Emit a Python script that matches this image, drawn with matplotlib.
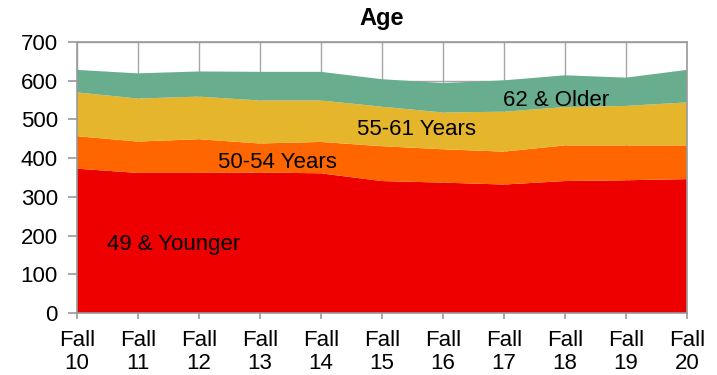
import matplotlib
matplotlib.use("Agg")
import matplotlib.pyplot as plt

plt.rcParams["font.family"] = ["Liberation Sans", "DejaVu Sans"]

terms = ["Fall\n10", "Fall\n11", "Fall\n12", "Fall\n13", "Fall\n14", "Fall\n15",
         "Fall\n16", "Fall\n17", "Fall\n18", "Fall\n19", "Fall\n20"]
age_49_under = [373, 362, 362, 363, 361, 341, 337, 332, 341, 343, 346]
age_50_54 = [84, 81, 87, 75, 81, 90, 86, 85, 92, 90, 87]
age_55_61 = [113, 111, 110, 111, 107, 102, 95, 103, 99, 102, 111]
age_62_over = [58, 65, 65, 74, 74, 71, 76, 81, 82, 73, 84]

colors = ["#ee0000", "#ff6600", "#e5b52b", "#69ad8f"]

fig = plt.figure(figsize=(7.17, 3.75), dpi=100)
ax = fig.add_axes([0.107, 0.165, 0.851, 0.723])

x = list(range(len(terms)))
ax.stackplot(x, age_49_under, age_50_54, age_55_61, age_62_over,
             colors=colors, linewidth=0, zorder=2)

ax.set_xlim(0, len(terms) - 1)
ax.set_ylim(0, 700)
ax.set_yticks(range(0, 701, 100))
ax.set_xticks(x)
ax.set_xticklabels(terms, linespacing=1.1)
ax.tick_params(axis="both", labelsize=16, color="#999999", direction="out", width=1.2)
ax.tick_params(axis="y", length=6.5, pad=7)
ax.tick_params(axis="x", length=4.5, pad=8)

ax.grid(True, color="#a6a6a6", linewidth=1, zorder=0)
ax.set_axisbelow(True)
for s in ax.spines.values():
    s.set_color("#999999")
    s.set_linewidth(1.2)

ax.set_title("Age", fontsize=17, fontweight="bold", pad=12)

label_kw = dict(fontsize=16, va="center", ha="left", zorder=3)
ax.text(0.49, 176, "49 & Younger", **label_kw)
ax.text(2.31, 388, "50-54 Years", **label_kw)
ax.text(4.6, 473, "55-61 Years", **label_kw)
ax.text(6.98, 550, "62 & Older", **label_kw)

fig.savefig("out.png", dpi=100)
